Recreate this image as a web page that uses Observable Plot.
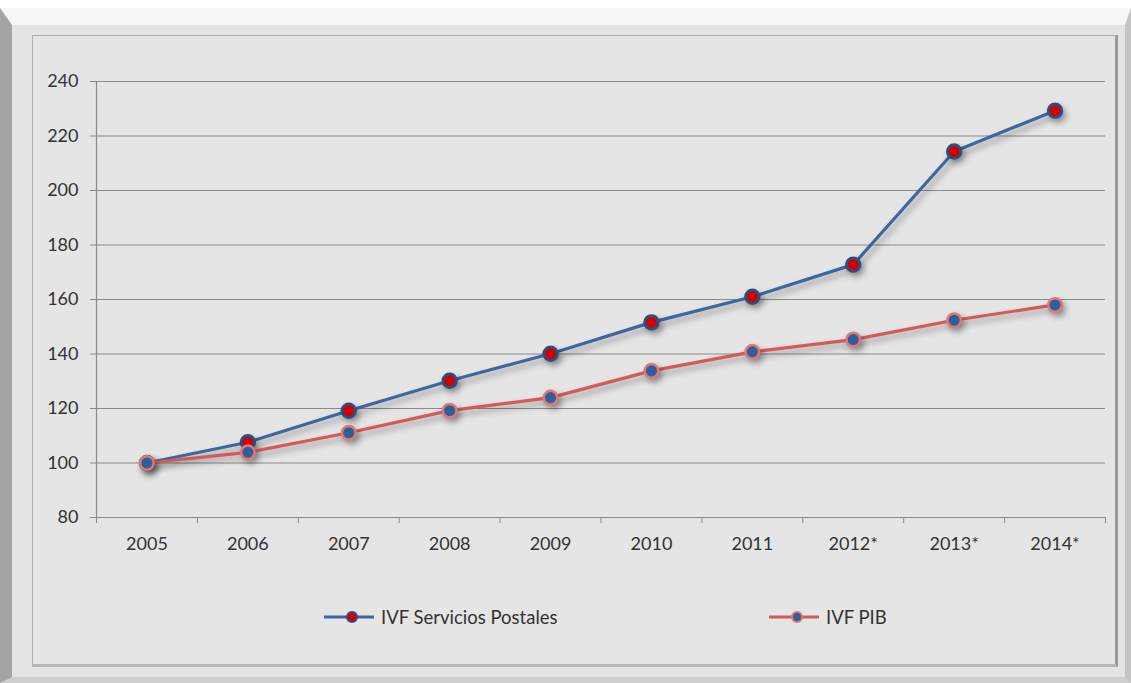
<!DOCTYPE html>
<html>
<head>
<meta charset="utf-8">
<script src="https://cdn.jsdelivr.net/npm/d3@7"></script>
<script src="https://cdn.jsdelivr.net/npm/@observablehq/plot@0.6"></script>
<style>
  html, body { margin: 0; padding: 0; background: #ffffff; }
  #wrap { position: relative; width: 1131px; height: 683px; overflow: hidden; font-family: Lato, "Open Sans", sans-serif; }
  #outer { position: absolute; left: 0; top: 8px; width: 1131px; height: 675px; box-sizing: border-box;
    background: #e4e4e4;
    border-style: solid; border-width: 17px 6px 6px 12px;
    border-color: #f6f6f6 #c4c4c4 #cfcfcf #a4a4a4; }
  #inner { position: absolute; left: 32px; top: 35px; width: 1086px; height: 632px; box-sizing: border-box;
    border: 1px solid #b0b0b0; border-right: 3px solid #9a9a9a; border-bottom: 3px solid #b8b8b8; background: #e5e5e5; }
  #chart { position: absolute; left: 0; top: 0; }
  #chart svg { background: transparent !important; }
  #chart g[aria-label="line"], #chart g[aria-label="dot"] { filter: drop-shadow(3px 4px 3px rgba(0,0,0,0.35)); }
  #legend { position: absolute; top: 606px; left: 0; width: 1131px; height: 26px; font-size: 18.5px; color: #333; }
  .item { position: absolute; display: flex; align-items: center; }
  .item span { margin-left: 6px; }
</style>
</head>
<body>
<div id="wrap">
  <div id="outer"></div>
  <div id="inner"></div>
  <div id="chart"></div>
  <div id="legend"></div>
</div>
<script>
const years = [2005, 2006, 2007, 2008, 2009, 2010, 2011, 2012, 2013, 2014];
const yearLabels = ["2005", "2006", "2007", "2008", "2009", "2010", "2011", "2012*", "2013*", "2014*"];
const postales = [100, 107.6, 119.2, 130.2, 140.1, 151.6, 161.0, 172.8, 214.3, 229.3];
const pib = [100, 103.9, 111.1, 119.2, 124.0, 133.8, 140.8, 145.3, 152.4, 158.0];
const seriesNames = ["IVF Servicios Postales", "IVF PIB"];
const yTicks = [80, 100, 120, 140, 160, 180, 200, 220, 240];

const blue = "#3c67a0";
const red = "#d45a5a";

const dataPost = years.map((yr, i) => ({year: yr, value: postales[i], series: seriesNames[0]}));
const dataPib = years.map((yr, i) => ({year: yr, value: pib[i], series: seriesNames[1]}));
const boundaries = years.map(y => y - 0.5).concat([years[years.length - 1] + 0.5]);
const labelOf = new Map(years.map((y, i) => [y, yearLabels[i]]));

const chart = Plot.plot({
  width: 1131,
  height: 683,
  marginLeft: 96,
  marginRight: 26,
  marginTop: 81,
  marginBottom: 166,
  style: {fontFamily: "Lato, 'Open Sans', sans-serif", fontSize: "18px", color: "#333", background: "transparent"},
  x: {type: "linear", domain: [years[0] - 0.5, years[years.length - 1] + 0.5]},
  y: {domain: [80, 240]},
  marks: [
    Plot.gridY(yTicks, {stroke: "#8a8a8a", strokeOpacity: 1, strokeWidth: 1.2}),
    Plot.ruleX([years[0] - 0.5], {y1: 80, y2: 240, stroke: "#8a8a8a", strokeWidth: 1.2}),
    Plot.axisY({ticks: yTicks, tickSize: 6, tickPadding: 12, stroke: "#8a8a8a", fill: "#333", label: null, fontSize: 18}),
    Plot.axisX({ticks: boundaries, tickSize: 6, tickFormat: () => "", stroke: "#8a8a8a", label: null}),
    Plot.axisX({ticks: years, tickSize: 0, tickPadding: 20, tickFormat: d => labelOf.get(d), fill: "#333", label: null, fontSize: 18}),
    Plot.line(dataPost, {x: "year", y: "value", stroke: blue, strokeWidth: 3.2}),
    Plot.dot(dataPost, {x: "year", y: "value", r: 6.8, fill: "#d00000", stroke: "#2a4f85", strokeWidth: 2.8}),
    Plot.line(dataPib, {x: "year", y: "value", stroke: red, strokeWidth: 3.2}),
    Plot.dot(dataPib, {x: "year", y: "value", r: 6.8, fill: "#2f5f98", stroke: "#e07878", strokeWidth: 2.5})
  ]
});
document.getElementById("chart").appendChild(chart);

const legend = document.getElementById("legend");
const items = [
  {name: seriesNames[0], line: blue, fill: "#d00000", ring: "#2a4f85", left: 323},
  {name: seriesNames[1], line: red, fill: "#2f5f98", ring: "#e07878", left: 768}
];
items.forEach(it => {
  const div = document.createElement("div");
  div.className = "item";
  div.style.left = it.left + "px";
  div.innerHTML = `<svg width="52" height="20"><line x1="1" x2="51" y1="10" y2="10" stroke="${it.line}" stroke-width="3.2"/><circle cx="29" cy="10" r="5" fill="${it.fill}" stroke="${it.ring}" stroke-width="2"/></svg><span>${it.name}</span>`;
  legend.appendChild(div);
});
</script>
</body>
</html>
